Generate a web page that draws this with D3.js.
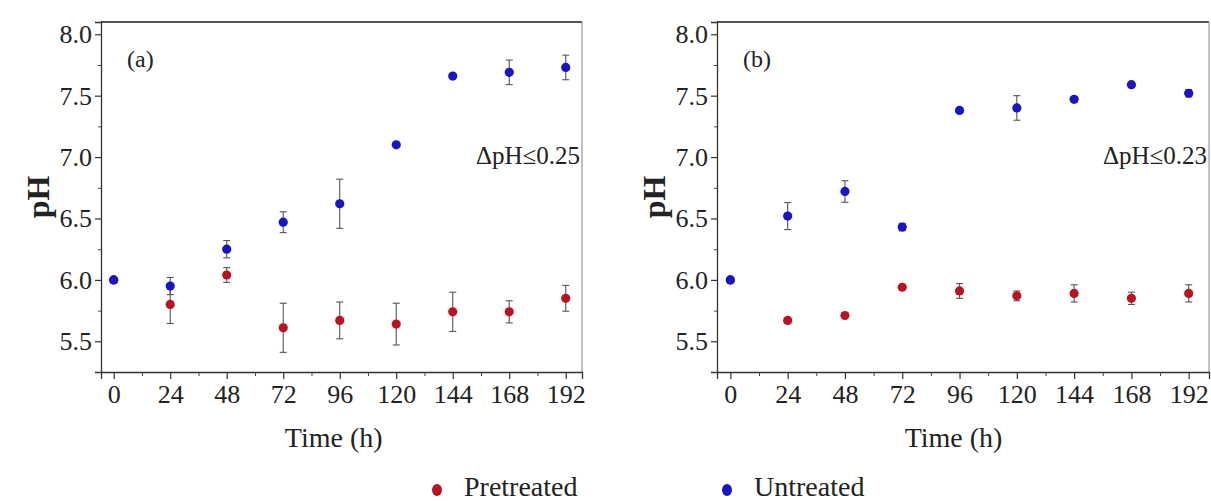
<!DOCTYPE html>
<html>
<head>
<meta charset="utf-8">
<script src="https://cdn.jsdelivr.net/npm/d3@7"></script>
<style>
  html, body { margin: 0; padding: 0; background: #fff; }
  svg { display: block; }
  text { font-family: "Liberation Serif", "Times New Roman", serif; fill: #222; }
</style>
</head>
<body>
<svg id="chart" width="1211" height="501"></svg>
<script>
// Sampling times (h)
const times = [0, 24, 48, 72, 96, 120, 144, 168, 192];

// Panel (a)
const untreatedA    = [6.00, 5.95, 6.25, 6.47, 6.62, 7.10, 7.66, 7.69, 7.73];
const untreatedErrA = [0, 0.07, 0.07, 0.085, 0.20, 0, 0, 0.10, 0.10];
const pretreatedA    = [6.00, 5.80, 6.04, 5.61, 5.67, 5.64, 5.74, 5.74, 5.85];
const pretreatedErrA = [0, 0.155, 0.06, 0.20, 0.15, 0.17, 0.16, 0.09, 0.105];

// Panel (b)
const untreatedB    = [6.00, 6.52, 6.72, 6.43, 7.38, 7.40, 7.47, 7.59, 7.52];
const untreatedErrB = [0, 0.11, 0.088, 0.03, 0, 0.10, 0.02, 0, 0.03];
const pretreatedB    = [6.00, 5.67, 5.71, 5.94, 5.91, 5.87, 5.89, 5.85, 5.89];
const pretreatedErrB = [0, 0, 0, 0, 0.06, 0.04, 0.07, 0.05, 0.07];

// Axis ticks
const yTicks = [5.5, 6.0, 6.5, 7.0, 7.5, 8.0];
const yMinorTicks = [5.25, 5.75, 6.25, 6.75, 7.25, 7.75];
const xTicks = times;
const xMinorTicks = [12, 36, 60, 84, 108, 132, 156, 180];

const panelLabels = ["(a)", "(b)"];
const deltaLabels = ["\u0394pH\u22640.25", "\u0394pH\u22640.23"];
const seriesNames = ["Pretreated", "Untreated"];
const seriesColors = { Pretreated: "#bb1220", Untreated: "#1616c4" };

const svg = d3.select("#chart");

const panels = [
  { left: 101, right: 582, xDomain: [-5.4, 198.9],
    label: panelLabels[0], delta: deltaLabels[0],
    series: [
      { name: "Pretreated", values: pretreatedA, errs: pretreatedErrA },
      { name: "Untreated", values: untreatedA, errs: untreatedErrA }
    ] },
  { left: 717, right: 1209, xDomain: [-5.6, 200.5],
    label: panelLabels[1], delta: deltaLabels[1],
    series: [
      { name: "Pretreated", values: pretreatedB, errs: pretreatedErrB },
      { name: "Untreated", values: untreatedB, errs: untreatedErrB }
    ] }
];

const plotTop = 22, plotBottom = 372;
const yDomain = [5.25, 8.1];

panels.forEach(p => {
  const x = d3.scaleLinear().domain(p.xDomain).range([p.left, p.right]);
  const y = d3.scaleLinear().domain(yDomain).range([plotBottom, plotTop]);
  const g = svg.append("g");

  // frame
  g.append("line").attr("x1", p.left).attr("x2", p.right).attr("y1", plotTop).attr("y2", plotTop)
    .attr("stroke", "#555").attr("stroke-width", 2);
  g.append("line").attr("x1", p.right).attr("x2", p.right).attr("y1", plotTop).attr("y2", plotBottom)
    .attr("stroke", "#999").attr("stroke-width", 1.2);

  // y axis
  const ya = g.append("g").attr("transform", `translate(${p.left},0)`)
    .call(d3.axisLeft(y).tickValues(yTicks).tickFormat(d3.format(".1f")).tickSize(6).tickPadding(3));
  ya.select(".domain").attr("stroke", "#333").attr("stroke-width", 1.3);
  ya.selectAll(".tick line").attr("stroke", "#333").attr("stroke-width", 1.2);
  ya.selectAll(".tick text").attr("font-size", 26).attr("fill", "#222");
  const yam = g.append("g").attr("transform", `translate(${p.left},0)`)
    .call(d3.axisLeft(y).tickValues(yMinorTicks).tickFormat("").tickSize(3));
  yam.select(".domain").remove();
  yam.selectAll(".tick line").attr("stroke", "#444");

  // x axis
  const xa = g.append("g").attr("transform", `translate(0,${plotBottom})`)
    .call(d3.axisBottom(x).tickValues(xTicks).tickSize(7).tickPadding(6));
  xa.select(".domain").attr("stroke", "#333").attr("stroke-width", 1.3);
  xa.selectAll(".tick line").attr("stroke", "#333").attr("stroke-width", 1.2);
  xa.selectAll(".tick text").attr("font-size", 26).attr("fill", "#222");
  const xam = g.append("g").attr("transform", `translate(0,${plotBottom})`)
    .call(d3.axisBottom(x).tickValues(xMinorTicks).tickFormat("").tickSize(4));
  xam.select(".domain").remove();
  xam.selectAll(".tick line").attr("stroke", "#444");

  // axis titles
  const xc = (x(0) + x(192)) / 2 - 6;
  g.append("text").attr("x", xc).attr("y", 447).attr("text-anchor", "middle")
    .attr("font-size", 28).text("Time (h)");
  g.append("text")
    .attr("transform", `translate(${p.left - 52},${(plotTop + plotBottom) / 2}) rotate(-90)`)
    .attr("text-anchor", "middle").attr("font-size", 32).attr("font-weight", "bold")
    .text("pH");

  // annotations
  g.append("text").attr("x", p.left + 26).attr("y", 67).attr("font-size", 24).text(p.label);
  g.append("text").attr("x", p.right - 2).attr("y", 164).attr("text-anchor", "end")
    .attr("font-size", 25).text(p.delta);

  // series: error bars then points
  p.series.forEach(s => {
    const pts = times.map((t, i) => ({ t, v: s.values[i], e: s.errs[i] }));
    const eb = g.append("g").attr("stroke", "#555").attr("stroke-width", 1.1);
    pts.filter(d => d.e > 0).forEach(d => {
      const cx = x(d.t), y1 = y(d.v + d.e), y2 = y(d.v - d.e);
      eb.append("line").attr("x1", cx).attr("x2", cx).attr("y1", y1).attr("y2", y2);
      eb.append("line").attr("x1", cx - 3.5).attr("x2", cx + 3.5).attr("y1", y1).attr("y2", y1);
      eb.append("line").attr("x1", cx - 3.5).attr("x2", cx + 3.5).attr("y1", y2).attr("y2", y2);
    });
    g.append("g").selectAll("circle").data(pts).join("circle")
      .attr("cx", d => x(d.t)).attr("cy", d => y(d.v)).attr("r", 4.6)
      .attr("fill", seriesColors[s.name]);
  });
});

// legend
const legendX = [437, 727];
seriesNames.forEach((name, i) => {
  const lg = svg.append("g");
  lg.append("ellipse").attr("cx", legendX[i]).attr("cy", 490).attr("rx", 5).attr("ry", 6)
    .attr("fill", seriesColors[name]);
  lg.append("text").attr("x", legendX[i] + 27).attr("y", 496).attr("font-size", 28).text(name);
});
</script>
</body>
</html>
